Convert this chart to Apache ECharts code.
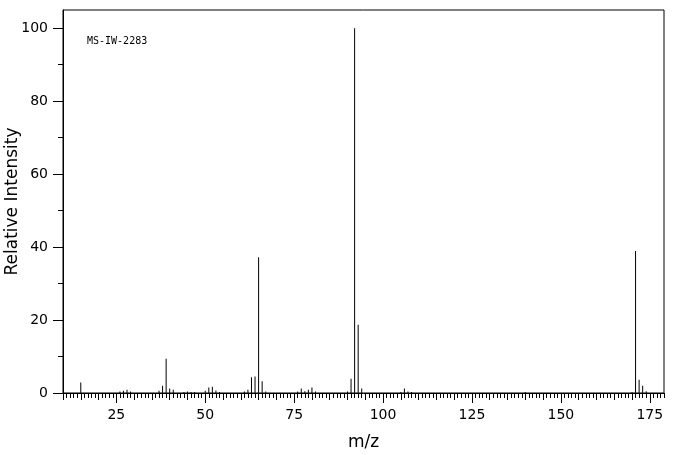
<!DOCTYPE html>
<html>
<head>
<meta charset="utf-8">
<script src="https://cdn.jsdelivr.net/npm/echarts@6/dist/echarts.min.js"></script>
<style>
  html, body { margin: 0; padding: 0; background: #fff; }
  #main { width: 676px; height: 455px; }
</style>
</head>
<body>
<div id="main"></div>
<script>
// peaks
var masses = [15, 26, 27, 28, 29, 37, 38, 39, 40, 41, 44, 45, 46, 47,
    50, 51, 52, 53, 54, 61, 62, 63, 64, 65, 66, 67,
    76, 77, 78, 79, 80, 81, 90, 91, 92, 93, 94,
    105, 106, 107, 108, 140, 170, 171, 172, 173, 174];
var intensities = [2.9, 0.4, 0.6, 0.9, 0.4, 0.6, 2.0, 9.4, 1.2, 0.9, 0.3, 0.4, 0.3, 0.3,
    0.6, 1.5, 1.7, 0.7, 0.3, 0.4, 0.9, 4.3, 4.5, 37.2, 3.2, 0.4,
    0.4, 1.2, 0.5, 0.9, 1.5, 0.4, 0.4, 3.9, 100, 18.7, 1.2,
    0.3, 1.2, 0.4, 0.3, 0.3, 0.3, 38.9, 3.6, 2.0, 0.5];

var xMajor = [25, 50, 75, 100, 125, 150, 175];
var xMid = [];
for (var i = 10; i <= 175; i += 5) xMid.push(i);
var xMinor = [];
for (var j = 10; j <= 179; j++) xMinor.push(j);
var yMajor = [0, 20, 40, 60, 80, 100];
var yMinor = [10, 30, 50, 70, 90];

var chart = echarts.init(document.getElementById('main'));

var seriesData = [];
for (var k = 0; k < masses.length; k++) {
    seriesData.push([masses[k], intensities[k]]);
}

var xMin = 10, xMax = 179, yMin = 0, yMax = 105;
var font = 'DejaVu Sans';

option = {
    animation: false,
    title: {
        text: 'MS-IW-2283',
        left: 87,
        top: 36,
        padding: 0,
        textStyle: { fontFamily: 'DejaVu Sans Mono', fontSize: 10, fontWeight: 'normal', color: '#000' }
    },
    grid: {
        left: 63, right: 12, top: 10, bottom: 62,
        containLabel: false, outerBoundsMode: 'none',
        show: true, borderColor: '#000', borderWidth: 1
    },
    xAxis: [
        {
            type: 'value', min: xMin, max: xMax, position: 'bottom',
            name: 'm/z', nameLocation: 'middle', nameGap: 41, nameMoveOverlap: false,
            nameTextStyle: { fontFamily: font, fontSize: 17, color: '#000' },
            axisLine: { show: true, lineStyle: { color: '#000', width: 1 } },
            axisTick: { show: true, length: 10, customValues: xMajor, lineStyle: { color: '#000' } },
            axisLabel: { customValues: xMajor, margin: 15, fontFamily: font, fontSize: 14, color: '#000' },
            splitLine: { show: false }
        },
        {
            type: 'value', min: xMin, max: xMax, position: 'bottom',
            axisLine: { show: false },
            axisTick: { show: true, length: 7, customValues: xMid, lineStyle: { color: '#000' } },
            axisLabel: { show: false },
            splitLine: { show: false }
        },
        {
            type: 'value', min: xMin, max: xMax, position: 'bottom',
            axisLine: { show: false },
            axisTick: { show: true, length: 5, customValues: xMinor, lineStyle: { color: '#000' } },
            axisLabel: { show: false },
            splitLine: { show: false }
        }
    ],
    yAxis: [
        {
            type: 'value', min: yMin, max: yMax, position: 'left',
            name: 'Relative Intensity', nameLocation: 'middle', nameGap: 42, nameMoveOverlap: false,
            nameTextStyle: { fontFamily: font, fontSize: 17, color: '#000' },
            axisLine: { show: true, lineStyle: { color: '#000', width: 1 } },
            axisTick: { show: true, length: 10, customValues: yMajor, lineStyle: { color: '#000' } },
            axisLabel: { customValues: yMajor, margin: 15, fontFamily: font, fontSize: 14, color: '#000' },
            splitLine: { show: false }
        },
        {
            type: 'value', min: yMin, max: yMax, position: 'left',
            axisLine: { show: false },
            axisTick: { show: true, length: 5, customValues: yMinor, lineStyle: { color: '#000' } },
            axisLabel: { show: false },
            splitLine: { show: false }
        }
    ],
    series: [
        {
            type: 'bar',
            xAxisIndex: 0,
            yAxisIndex: 0,
            barWidth: 1,
            itemStyle: { color: '#000' },
            data: seriesData
        }
    ]
};

chart.setOption(option);
</script>
</body>
</html>
